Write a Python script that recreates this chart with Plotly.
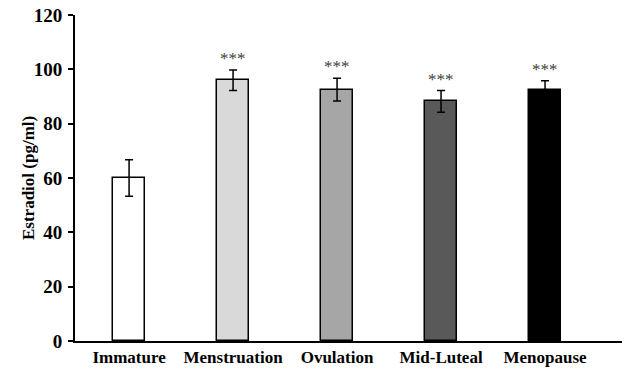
import plotly.graph_objects as go

categories = ["Immature", "Menstruation", "Ovulation", "Mid-Luteal", "Menopause"]
values = [60.0, 96.0, 92.5, 88.2, 92.4]
errors = [6.7, 3.8, 4.2, 4.0, 3.4]
significance = ["", "***", "***", "***", "***"]
colors = ["#ffffff", "#d9d9d9", "#a6a6a6", "#595959", "#000000"]
y_ticks = [0, 20, 40, 60, 80, 100, 120]
y_title = "Estradiol (pg/ml)"

serif = "Liberation Serif, Times New Roman, serif"

fig = go.Figure()
fig.add_trace(go.Bar(
    x=categories, y=values,
    width=0.31,
    marker=dict(color=colors, line=dict(color="#000000", width=1.5)),
    error_y=dict(type="data", array=errors, visible=True,
                 color="#000000", thickness=1.5, width=4),
    showlegend=False,
))

for c, v, e, s in zip(categories, values, errors, significance):
    if s:
        fig.add_annotation(x=c, y=v + e, text=s, showarrow=False,
                           yanchor="bottom", yshift=0,
                           font=dict(family=serif, size=17, color="#404040"))

fig.add_annotation(
    text="<b>" + y_title + "</b>", textangle=-90, showarrow=False,
    xref="paper", yref="paper", x=-47 / 547, y=0.5,
    xanchor="center", yanchor="middle",
    font=dict(family=serif, size=17, color="#000000"),
)

fig.update_layout(
    width=628, height=375,
    margin=dict(l=75, r=6, t=15, b=34),
    plot_bgcolor="#ffffff", paper_bgcolor="#ffffff",
    font=dict(family=serif, color="#000000"),
    bargap=0,
)
fig.update_xaxes(
    type="category", range=[-0.52, 4.74],
    showline=True, linecolor="#000000", linewidth=2,
    ticks="", showgrid=False, zeroline=False,
    tickfont=dict(family=serif, size=17, color="#000000", weight="bold"),
)
fig.update_yaxes(
    range=[0, 120], tickvals=y_ticks,
    showline=True, linecolor="#000000", linewidth=2,
    ticks="outside", ticklen=5, tickwidth=2, tickcolor="#000000",
    showgrid=False, zeroline=False, ticklabelstandoff=2,
    tickfont=dict(family=serif, size=19, color="#000000", weight="bold"),
)

fig.write_html("out.html")
